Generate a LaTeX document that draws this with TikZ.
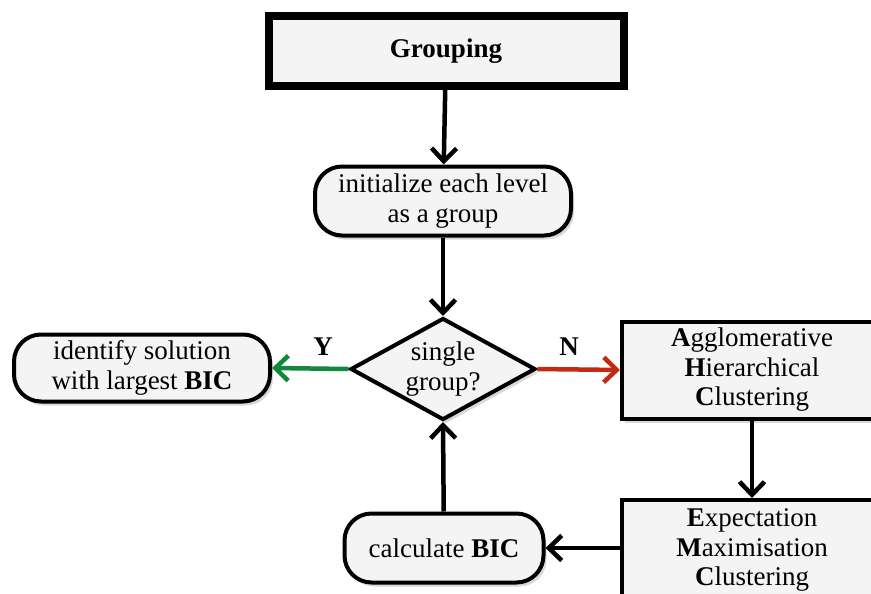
\documentclass[tikz,border=0pt]{standalone}
\usepackage{fontspec}
\setmainfont{Liberation Serif}
\usetikzlibrary{arrows.meta,shapes.geometric,shadows}

\definecolor{boxfill}{HTML}{F4F4F4}
\definecolor{yesgreen}{HTML}{12883C}
\definecolor{nored}{HTML}{C42A12}

\begin{document}
\begin{tikzpicture}[
  x=1pt, y=-1pt,
  every node/.style={font=\fontsize{27}{29.5}\selectfont, align=center},
  box/.style={draw, line width=4pt, fill=boxfill, inner sep=0pt,
    drop shadow={opacity=0.3, shadow xshift=3pt, shadow yshift=-4pt}},
  roundbox/.style={box, rounded corners=27pt},
  decision/.style={box, diamond, aspect=1.8},
  flow/.style={draw, line width=4.5pt, -{Straight Barb[length=13pt,width=25pt,line width=4.5pt]}},
  answer/.style={font=\fontsize{27}{29.5}\selectfont\bfseries}
]
\clip (0,0) rectangle (871,594);

\node[box, line width=8pt, minimum width=355pt, minimum height=70pt] (grouping) at (446,51) {\textbf{Grouping}};
\node[roundbox, minimum width=256pt, minimum height=69pt] (init) at (443,201) {initialize each level\\as a group};
\node[decision, minimum width=185pt, minimum height=102pt] (single) at (443,369) {single\\group?};
\node[roundbox, minimum width=256pt, minimum height=67pt] (best) at (142,368) {identify solution\\with largest \textbf{BIC}};
\node[box, minimum width=260pt, minimum height=97pt] (ahc) at (752,370) {\textbf{A}gglomerative\\\textbf{H}ierarchical\\\textbf{C}lustering};
\node[box, minimum width=260pt, minimum height=100pt] (emc) at (752,550) {\textbf{E}xpectation\\\textbf{M}aximisation\\\textbf{C}lustering};
\node[roundbox, minimum width=199pt, minimum height=69pt] (bic) at (444,548) {calculate \textbf{BIC}};

% connectors
\draw[flow] (grouping) -- (init);
\draw[flow] (init) -- (single);
\draw[flow, yesgreen] (single.west) -- (best.east);
\draw[flow, nored] (single.east) -- (ahc.west);
\draw[flow] (ahc) -- (emc);
\draw[flow] (emc.west |- bic.east) -- (bic.east);
\draw[flow] (bic) -- (single.south);

\node[answer] (yes) at (323,347) {Y};
\node[answer] (no) at (569,347) {N};
\end{tikzpicture}
\end{document}
